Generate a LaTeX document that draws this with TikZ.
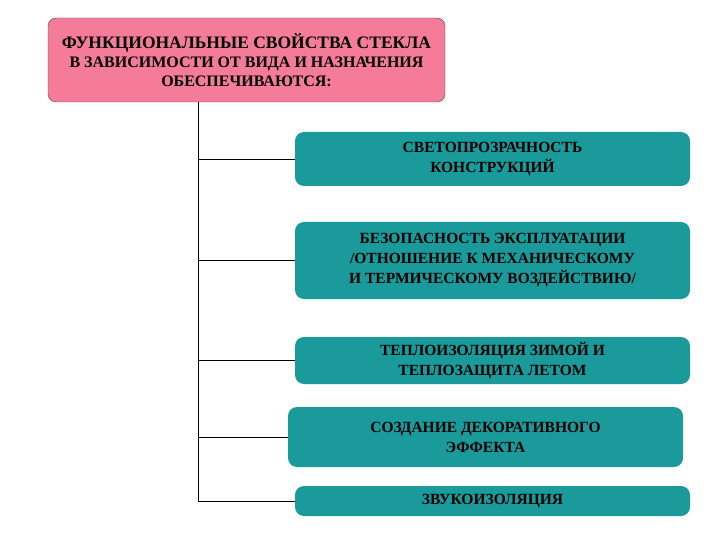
\documentclass[tikz,border=0pt]{standalone}
\usepackage{fontspec}
\setmainfont{Liberation Serif}
\definecolor{pinkbox}{HTML}{F47C98}
\definecolor{tealbox}{HTML}{1A9A9A}
\begin{document}
\begin{tikzpicture}[x=1pt,y=-1pt,
  topbox/.style={draw=black!70,fill=pinkbox,rounded corners=8pt,align=center,font=\bfseries\fontsize{17.5}{19}\selectfont,inner sep=0pt},
  itembox/.style={fill=tealbox,rounded corners=9pt,align=center,font=\bfseries\fontsize{15.5}{20}\selectfont,inner sep=0pt},
  conn/.style={draw=black,line width=0.9pt}]
\useasboundingbox (0,0) rectangle (720,540);
\node[topbox,minimum width=397pt,minimum height=84pt] (top) at (246.5,60) {ФУНКЦИОНАЛЬНЫЕ СВОЙСТВА СТЕКЛА\\{\fontsize{16}{19}\selectfont В ЗАВИСИМОСТИ ОТ ВИДА И НАЗНАЧЕНИЯ}\\{\fontsize{16}{19}\selectfont ОБЕСПЕЧИВАЮТСЯ:}};
\node[itembox,minimum width=395pt,minimum height=54pt] (b1) at (492.5,159) {СВЕТОПРОЗРАЧНОСТЬ\\КОНСТРУКЦИЙ};
\node[itembox,minimum width=395pt,minimum height=77pt] (b2) at (492.5,260.5) {БЕЗОПАСНОСТЬ ЭКСПЛУАТАЦИИ\\/ОТНОШЕНИЕ К МЕХАНИЧЕСКОМУ\\И ТЕРМИЧЕСКОМУ ВОЗДЕЙСТВИЮ/};
\node[itembox,minimum width=395pt,minimum height=47pt] (b3) at (492.5,360.5) {ТЕПЛОИЗОЛЯЦИЯ ЗИМОЙ И\\ТЕПЛОЗАЩИТА ЛЕТОМ};
\node[itembox,minimum width=395pt,minimum height=60pt] (b4) at (485.5,437) {СОЗДАНИЕ ДЕКОРАТИВНОГО\\ЭФФЕКТА};
\node[itembox,minimum width=395pt,minimum height=30pt] (b5) at (492.5,501) {ЗВУКОИЗОЛЯЦИЯ};
\coordinate (t) at (198,102);
\coordinate (e) at (198,501);
\draw[conn] (t) -- (e);
\foreach \b in {b1,b2,b3,b4,b5} \draw[conn] (t |- \b.west) -- (\b.west);
\end{tikzpicture}
\end{document}
